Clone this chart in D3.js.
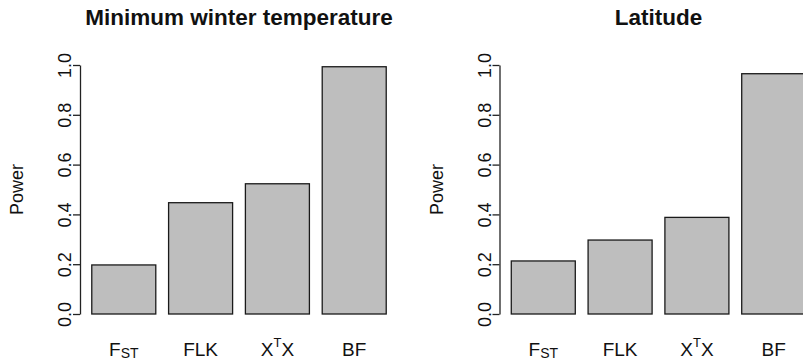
<!DOCTYPE html>
<html>
<head>
<meta charset="utf-8">
<script src="https://cdn.jsdelivr.net/npm/d3@7"></script>
<style>
  body { margin: 0; background: #fff; }
  svg { display: block; font-family: "Liberation Sans", Arial, Helvetica, sans-serif; }
</style>
</head>
<body>
<div id="chart"></div>
<script>
"use strict";

// data
const methods = ["FST", "FLK", "XTX", "BF"];
const panelTitles = ["Minimum winter temperature", "Latitude"];
const winterPower = [0.197, 0.447, 0.523, 0.993];
const latitudePower = [0.213, 0.297, 0.388, 0.965];
const yTicks = [0, 0.2, 0.4, 0.6, 0.8, 1.0];
const yLabel = "Power";

const width = 803;
const height = 363;

const svg = d3.select("#chart")
  .append("svg")
  .attr("width", width)
  .attr("height", height);

const panelOffset = 419.5;
const plot = { left: 80, right: 398, top: 65, bottom: 314 };

const yScale = d3.scaleLinear()
  .domain([0, 1])
  .range([plot.bottom, plot.top]);

const drawLabel = (sel, name) => {
  if (name === "FST") {
    sel.append("tspan").text("F");
    sel.append("tspan").text("ST").attr("font-size", "14px").attr("dy", 2);
  } else if (name === "XTX") {
    sel.append("tspan").text("X");
    sel.append("tspan").text("T").attr("font-size", "13px").attr("dy", -9);
    sel.append("tspan").text("X").attr("dy", 9);
  } else {
    sel.text(name);
  }
}

const drawPanel = (title, values, offset) => {
  const g = svg.append("g")
    .attr("transform", `translate(${offset},0)`);

  const xScale = d3.scaleBand()
    .domain(methods)
    .range([plot.left, plot.right])
    .paddingInner(0.2 / 1.2)
    .paddingOuter(0.184 / 1.2);

  g.selectAll("rect")
    .data(methods)
    .join("rect")
    .attr("x", d => xScale(d))
    .attr("width", xScale.bandwidth())
    .attr("y", (d, i) => yScale(values[i]))
    .attr("height", (d, i) => yScale(0) - yScale(values[i]))
    .attr("fill", "#bebebe")
    .attr("stroke", "#1a1a1a")
    .attr("stroke-width", 1.3);

  const yAxis = d3.axisLeft(yScale)
    .tickValues(yTicks)
    .tickFormat(d3.format(".1f"))
    .tickSize(7)
    .tickSizeOuter(0);

  const ax = g.append("g")
    .attr("transform", `translate(${plot.left},0)`)
    .call(yAxis);

  ax.attr("font-size", null).attr("font-family", null);
  ax.select(".domain").attr("stroke", "#222").attr("stroke-width", 1.3);
  ax.selectAll(".tick line").attr("stroke", "#222").attr("stroke-width", 1.3);
  ax.selectAll(".tick text")
    .attr("transform", "rotate(-90)")
    .attr("x", 0)
    .attr("y", -9)
    .attr("dy", 0)
    .attr("text-anchor", "middle")
    .attr("fill", "#111")
    .style("font-size", "18px");

  g.append("text")
    .attr("transform", `translate(23,${(plot.top + plot.bottom) / 2}) rotate(-90)`)
    .attr("text-anchor", "middle")
    .attr("fill", "#111")
    .style("font-size", "18px")
    .text(yLabel);

  g.append("text")
    .attr("x", (plot.left + plot.right) / 2)
    .attr("y", 25)
    .attr("text-anchor", "middle")
    .attr("fill", "#111")
    .style("font-size", "22.5px")
    .style("font-weight", "bold")
    .text(title);

  g.selectAll(".xlab")
    .data(methods)
    .join("text")
    .attr("class", "xlab")
    .attr("x", d => xScale(d) + xScale.bandwidth() / 2)
    .attr("y", 355.5)
    .attr("text-anchor", "middle")
    .attr("fill", "#111")
    .style("font-size", "19px")
    .each(function (d) { drawLabel(d3.select(this), d); });
}

drawPanel(panelTitles[0], winterPower, 0);
drawPanel(panelTitles[1], latitudePower, panelOffset);
</script>
</body>
</html>
